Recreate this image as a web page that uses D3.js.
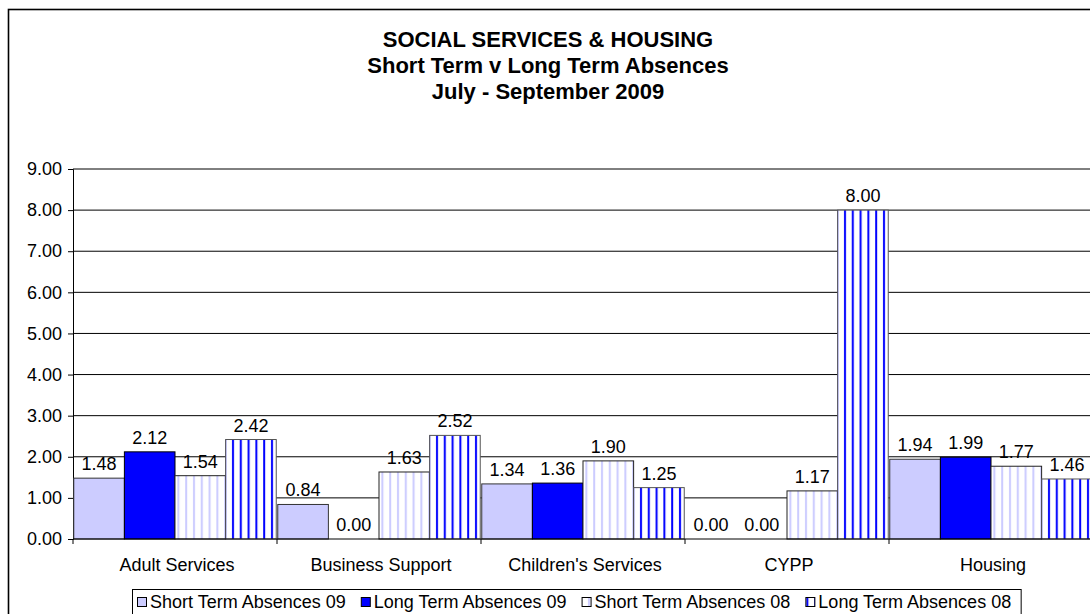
<!DOCTYPE html>
<html>
<head>
<meta charset="utf-8">
<script src="https://cdn.jsdelivr.net/npm/d3@7"></script>
<style>
  html, body { margin: 0; padding: 0; background: #fff; }
  svg { display: block; font-family: "Liberation Sans", Arial, sans-serif; }
</style>
</head>
<body>
<svg id="chart" width="1090" height="614"></svg>
<script>
// Absence rates by department, July - September 2009 vs 2008
const categories = ["Adult Services", "Business Support", "Children's Services", "CYPP", "Housing"];
const seriesNames = ["Short Term Absences 09", "Long Term Absences 09", "Short Term Absences 08", "Long Term Absences 08"];
const shortTerm09 = [1.48, 0.84, 1.34, 0.00, 1.94];
const longTerm09  = [2.12, 0.00, 1.36, 0.00, 1.99];
const shortTerm08 = [1.54, 1.63, 1.90, 1.17, 1.77];
const longTerm08  = [2.42, 2.52, 1.25, 8.00, 1.46];
const yTicks = [0, 1, 2, 3, 4, 5, 6, 7, 8, 9];
const titleLines = ["SOCIAL SERVICES & HOUSING", "Short Term v Long Term Absences", "July - September 2009"];

const seriesValues = [shortTerm09, longTerm09, shortTerm08, longTerm08];
const svg = d3.select("#chart");
const labelSize = 18;

// fills: solid lavender, solid blue, light-striped, blue-striped
const defs = svg.append("defs");
function stripes(id, color) {
  const p = defs.append("pattern").attr("id", id).attr("patternUnits", "userSpaceOnUse")
    .attr("width", 7.8).attr("height", 10);
  p.append("rect").attr("width", 7.8).attr("height", 10).attr("fill", "#fff");
  p.append("rect").attr("x", 3).attr("width", 2).attr("height", 10).attr("fill", color);
}
stripes("stripeLight", "#ccccff");
stripes("stripeBlue", "#0000ff");
const fills = ["#ccccff", "#0000ff", "url(#stripeLight)", "url(#stripeBlue)"];
const strokes = ["#333", "#000", "#222", "#555"];

// outer frame
svg.append("rect").attr("x", 8.5).attr("y", 9.5).attr("width", 1200).attr("height", 800)
  .attr("fill", "none").attr("stroke", "#000").attr("stroke-width", 1.6);

// title
svg.append("g").selectAll("text").data(titleLines).join("text")
  .attr("x", 548).attr("y", (d, i) => 47 + i * 26)
  .attr("text-anchor", "middle").attr("font-weight", "bold").attr("font-size", 22)
  .attr("fill", "#000").text(d => d);

const left = 73, catW = 204;
const x = d3.scaleBand().domain(categories).range([left, left + catW * categories.length]).padding(0);
const xs = d3.scaleBand().domain(seriesNames).range([0, catW]).paddingInner(0).paddingOuter(0.015);
const y = d3.scaleLinear().domain([0, 9]).range([539, 169]);

// gridlines
svg.append("g").selectAll("line").data(yTicks.slice(1)).join("line")
  .attr("x1", left).attr("x2", 1100).attr("y1", d => y(d)).attr("y2", d => y(d))
  .attr("stroke", "#000").attr("stroke-width", 1);

// y axis
const yAxis = svg.append("g").attr("transform", `translate(${left},0)`)
  .call(d3.axisLeft(y).tickValues(yTicks).tickFormat(d3.format(".2f")).tickSize(5).tickPadding(6));
yAxis.select(".domain").attr("stroke", "#000");
yAxis.selectAll(".tick line").attr("stroke", "#000");
yAxis.selectAll("text").attr("font-size", labelSize).attr("fill", "#000")
  .attr("font-family", "Liberation Sans, Arial, sans-serif");

// bars
const groups = svg.append("g").selectAll("g").data(categories).join("g")
  .attr("transform", d => `translate(${x(d)},0)`);
groups.selectAll("rect").data((c, ci) => seriesNames.map((s, si) => ({ s, si, v: seriesValues[si][ci] })))
  .join("rect")
  .attr("x", d => xs(d.s)).attr("width", xs.bandwidth())
  .attr("y", d => y(d.v)).attr("height", d => y(0) - y(d.v))
  .attr("fill", d => fills[d.si]).attr("stroke", d => strokes[d.si]).attr("stroke-width", 1);

// value labels
groups.selectAll("text").data((c, ci) => seriesNames.map((s, si) => ({ s, si, v: seriesValues[si][ci] })))
  .join("text")
  .attr("x", d => xs(d.s) + xs.bandwidth() / 2).attr("y", d => y(d.v) - 8)
  .attr("text-anchor", "middle").attr("font-size", labelSize).attr("fill", "#000")
  .text(d => d3.format(".2f")(d.v));

// x axis
svg.append("line").attr("x1", left).attr("x2", 1100).attr("y1", y(0)).attr("y2", y(0)).attr("stroke", "#000");
const bounds = categories.map(c => x(c));
svg.append("g").selectAll("line").data(bounds).join("line")
  .attr("x1", d => d).attr("x2", d => d).attr("y1", y(0)).attr("y2", y(0) + 5).attr("stroke", "#000");
svg.append("g").selectAll("text").data(categories).join("text")
  .attr("x", d => x(d) + catW / 2 + 2).attr("y", 571)
  .attr("text-anchor", "middle").attr("font-size", labelSize).attr("fill", "#000").text(d => d);

// legend
const lg = svg.append("g");
const lgBox = lg.append("rect").attr("x", 132.5).attr("y", 589.5).attr("height", 60)
  .attr("fill", "#fff").attr("stroke", "#000").attr("stroke-width", 1);
let cx = 137;
seriesNames.forEach((s, i) => {
  lg.append("rect").attr("x", cx + 0.5).attr("y", 597.5).attr("width", 9).attr("height", 9)
    .attr("fill", fills[i]).attr("stroke", "#000").attr("stroke-width", 1);
  const t = lg.append("text").attr("x", cx + 13).attr("y", 608).attr("font-size", labelSize).attr("fill", "#000").text(s);
  cx += 13 + t.node().getComputedTextLength() + 15;
});
lgBox.attr("width", cx - 132.5 - 5);
</script>
</body>
</html>
